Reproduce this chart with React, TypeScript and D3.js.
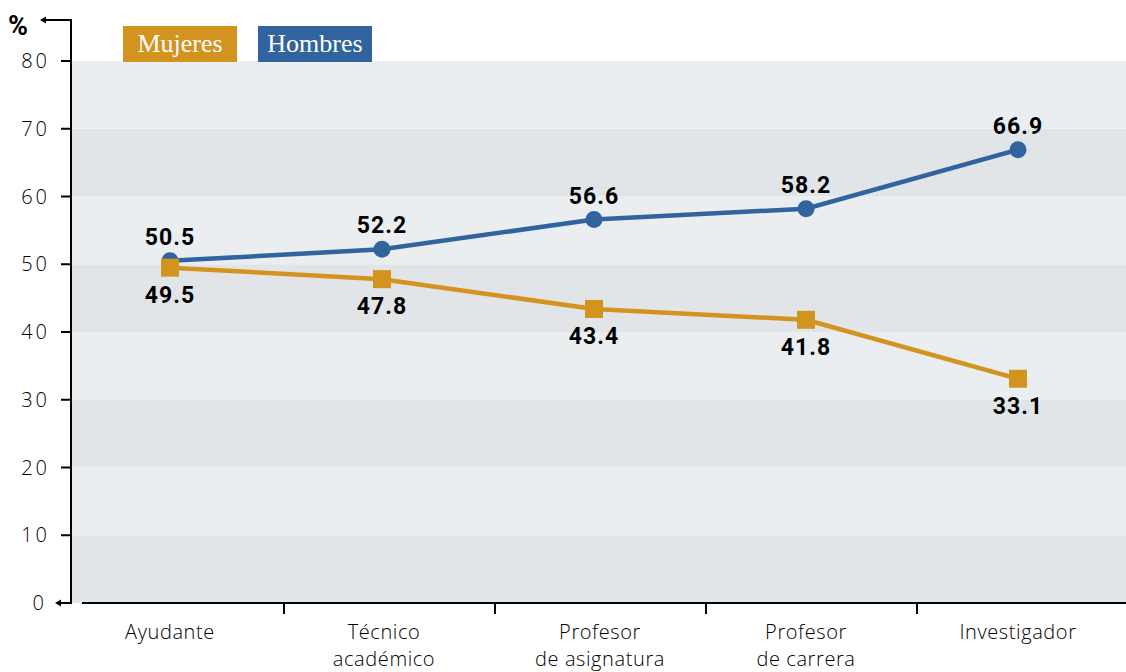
import React from "react";
import * as d3 from "d3";

const categories: string[][] = [
  ["Ayudante"],
  ["Técnico", "académico"],
  ["Profesor", "de asignatura"],
  ["Profesor", "de carrera"],
  ["Investigador"],
];
const mujeres = [49.5, 47.8, 43.4, 41.8, 33.1];
const hombres = [50.5, 52.2, 56.6, 58.2, 66.9];
const yTicks = [0, 10, 20, 30, 40, 50, 60, 70, 80];
const seriesNames = ["Mujeres", "Hombres"];

const W = 1126;
const H = 672;
const ORANGE = "#d3931f";
const BLUE = "#31649e";
const LIGHT = "#eaeef1";
const DARK = "#e1e5e8";

export default function App() {
  const y = d3.scaleLinear().domain([0, 80]).range([603, 61]);
  const band = d3.scaleBand<number>().domain(d3.range(5)).range([73, 1128]).paddingInner(0).paddingOuter(0);
  const px = d3.scalePoint<number>().domain(d3.range(5)).range([170, 1018]);
  const line = d3
    .line<number>()
    .x((_, i) => px(i)!)
    .y((d) => y(d));

  const bands = d3.range(0, 80, 10);
  const labelShift = [0, 2, 6, 0, 0];

  return (
    <svg width={W} height={H} style={{ position: "absolute", left: 0, top: 0 }}>
      {bands.map((b) => (
        <rect
          key={b}
          x={72}
          y={y(b + 10)}
          width={W - 72}
          height={y(b) - y(b + 10)}
          fill={(b / 10) % 2 === 0 ? DARK : LIGHT}
        />
      ))}
      {/* y axis */}
      <line x1={71} x2={71} y1={19} y2={604} stroke="#000" strokeWidth={2} />
      <line x1={44} x2={72} y1={20} y2={20} stroke="#000" strokeWidth={2} />
      <path d="M40,20 L46,16.5 L46,23.5 Z" fill="#000" />
      <text x={8} y={35} fontFamily="Roboto, sans-serif" fontWeight={700} fontSize={27} letterSpacing={-1} fill="#000">
        %
      </text>
      {yTicks.map((t) => (
        <g key={t}>
          {t === 0 ? (
            <>
              <line x1={60} x2={72} y1={y(t)} y2={y(t)} stroke="#000" strokeWidth={2} />
              <path d={`M55,${y(t)} L61,${y(t) - 3.5} L61,${y(t) + 3.5} Z`} fill="#000" />
            </>
          ) : (
            <line x1={61} x2={72} y1={y(t)} y2={y(t)} stroke="#000" strokeWidth={2} />
          )}
          <text
            x={t === 0 ? 47 : 50}
            y={y(t)}
            dy="0.36em"
            textAnchor="end"
            fontFamily="'Open Sans', sans-serif"
            fontWeight={300}
            fontSize={20}
            letterSpacing={3}
            fill="#000"
          >
            {t}
          </text>
        </g>
      ))}
      {/* x axis */}
      <line x1={82} x2={W} y1={603} y2={603} stroke="#000" strokeWidth={2} />
      {d3.range(5).map((i) => (
        <line
          key={i}
          x1={band(i)! + band.bandwidth()}
          x2={band(i)! + band.bandwidth()}
          y1={603}
          y2={614}
          stroke="#000"
          strokeWidth={2}
        />
      ))}
      {categories.map((lines, i) =>
        lines.map((l, j) => (
          <text
            key={`${i}-${j}`}
            x={px(i)! + labelShift[i]}
            y={639 + j * 27}
            textAnchor="middle"
            fontFamily="'Open Sans', sans-serif"
            fontWeight={300}
            fontSize={20}
            letterSpacing={0.6}
            fill="#000"
          >
            {l}
          </text>
        ))
      )}
      {/* lines */}
      <path d={line(hombres)!} fill="none" stroke={BLUE} strokeWidth={4.5} />
      <path d={line(mujeres)!} fill="none" stroke={ORANGE} strokeWidth={4.5} />
      {hombres.map((v, i) => (
        <circle key={i} cx={px(i)!} cy={y(v)} r={8.5} fill={BLUE} />
      ))}
      {mujeres.map((v, i) => (
        <rect key={i} x={px(i)! - 9} y={y(v) - 9} width={18} height={18} fill={ORANGE} />
      ))}
      {hombres.map((v, i) => (
        <text
          key={i}
          x={px(i)!}
          y={y(v) - 16}
          textAnchor="middle"
          fontFamily="Roboto, sans-serif"
          fontWeight={700}
          fontSize={23}
          letterSpacing={1}
          fill="#000"
        >
          {v.toFixed(1)}
        </text>
      ))}
      {mujeres.map((v, i) => (
        <text
          key={i}
          x={px(i)!}
          y={y(v) + 35}
          textAnchor="middle"
          fontFamily="Roboto, sans-serif"
          fontWeight={700}
          fontSize={23}
          letterSpacing={1}
          fill="#000"
        >
          {v.toFixed(1)}
        </text>
      ))}
      {/* legend */}
      {seriesNames.map((n, i) => {
        const x0 = i === 0 ? 123 : 258;
        const w = 114;
        return (
          <g key={n}>
            <rect x={x0} y={26} width={w} height={36} fill={i === 0 ? ORANGE : BLUE} />
            <text
              x={x0 + w / 2}
              y={52}
              textAnchor="middle"
              fontFamily="'Liberation Serif', 'DejaVu Serif', serif"
              fontSize={26}
              fill="#fff"
            >
              {n}
            </text>
          </g>
        );
      })}
    </svg>
  );
}
